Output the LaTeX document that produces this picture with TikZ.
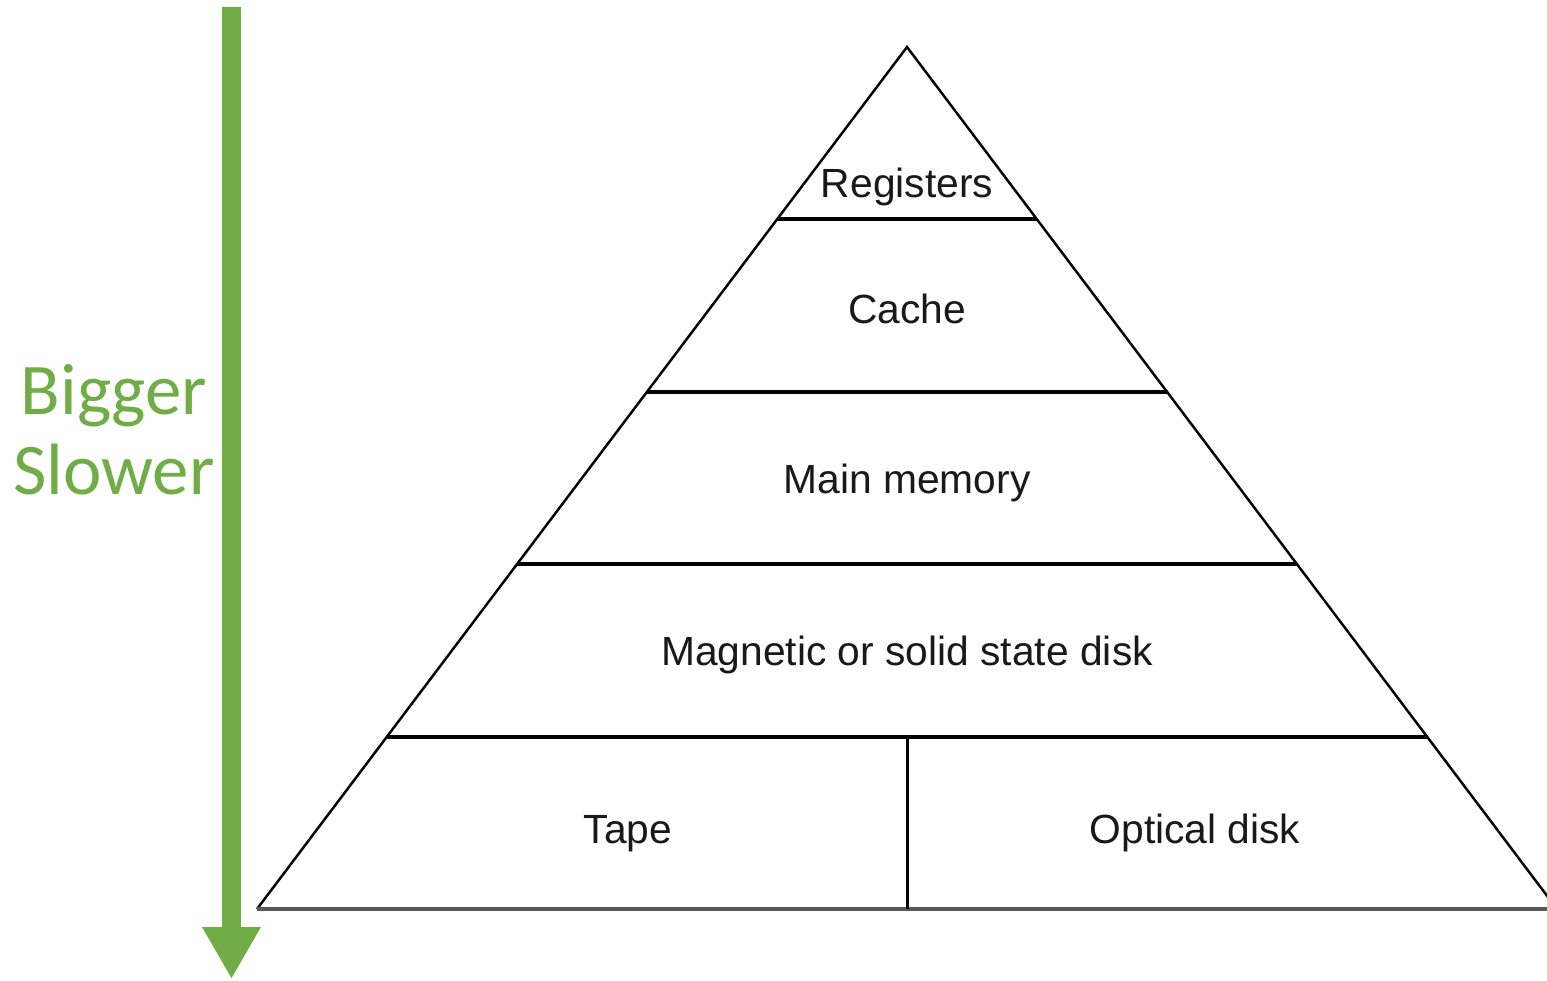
\documentclass[tikz,border=0pt]{standalone}
\usepackage{fontspec}
\setmainfont{Liberation Sans}
\newfontfamily\calibrifont{Carlito}
\usetikzlibrary{arrows.meta,calc}
\definecolor{levelgreen}{HTML}{70AD47}
\tikzset{
  side/.style={line width=0.7pt},
  level/.style={line width=1.1pt},
  layer/.style={anchor=base,font=\fontsize{11.6}{14}\selectfont,text=black!90},
  slowarrow/.style={levelgreen,line width=0.19cm,-{Triangle[width=0.55cm,length=0.52cm]}}
}
\begin{document}
\begin{tikzpicture}
\useasboundingbox (0,0) rectangle (15.47,9.8);
\coordinate (apex) at (9.07,9.33);
\coordinate (bl) at (2.57,0.71);
\coordinate (br) at (15.57,0.71);
% pyramid
\draw[side] (bl) -- (apex) -- (br);
\draw[line width=1pt,black!65] (bl) -- (br);
\foreach \t in {0.2,0.4,0.6,0.8}
  \draw[level] ($(apex)!\t!(bl)$) -- ($(apex)!\t!(br)$);
\coordinate (splittop) at (9.07,2.43);
\coordinate (splitbot) at (9.07,0.71);
\draw[line width=0.85pt] (splittop) -- (splitbot);
% labels
\node[layer] (regs) at (9.07,7.83) {Registers};
\node[layer] (cache) at (9.07,6.57) {Cache};
\node[layer] (mainmem) at (9.07,4.87) {Main memory};
\node[layer] (disk) at (9.07,3.15) {Magnetic or solid state disk};
\node[layer] (tape) at (6.28,1.37) {Tape};
\node[layer] (optical) at (11.95,1.37) {Optical disk};
% arrow
\coordinate (fast) at (2.315,9.73);
\coordinate (slow) at (2.315,0.01);
\draw[slowarrow] (fast) -- (slow);
\node[align=center,text=levelgreen,font=\calibrifont\fontsize{20.7}{22.7}\selectfont] (bigslow) at (1.14,5.50) {Bigger\\Slower};
\end{tikzpicture}
\end{document}
